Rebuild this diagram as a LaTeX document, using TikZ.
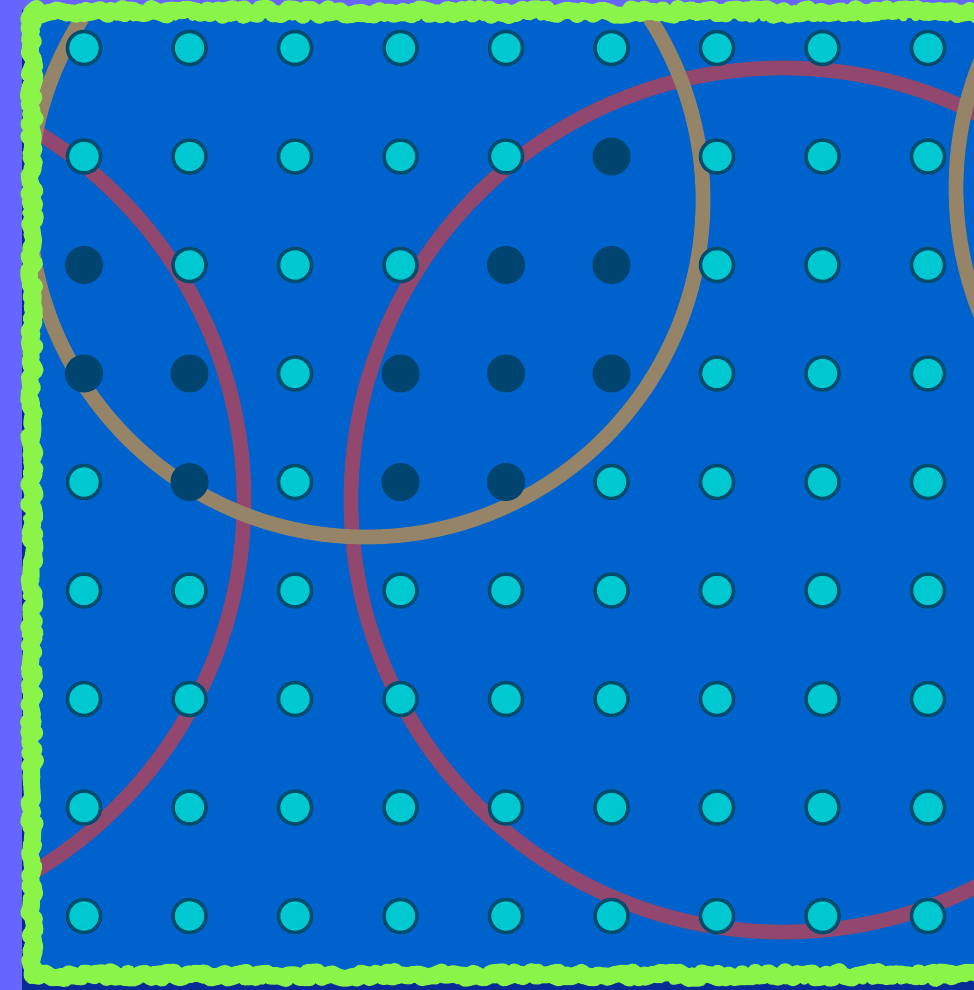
\documentclass[tikz,border=0pt]{standalone}
\usepackage{xcolor}
\usetikzlibrary{decorations.pathmorphing}
\definecolor{bgviolet}{RGB}{102,102,255}
\definecolor{framedark}{RGB}{8,44,150}
\definecolor{boardblue}{RGB}{0,98,204}
\definecolor{framegreen}{RGB}{138,244,72}
\definecolor{ringtan}{RGB}{150,132,105}
\definecolor{ringpink}{RGB}{146,72,110}
\definecolor{pegcyan}{RGB}{0,200,208}
\definecolor{pegline}{RGB}{0,76,108}
\definecolor{pegdark}{RGB}{0,68,112}

\begin{document}
\begin{tikzpicture}[x=0.01cm, y=-0.01cm,
  peg/.style={circle, draw=pegline, fill=pegcyan, line width=1pt, minimum size=0.33cm, inner sep=0pt},
  hole/.style={circle, fill=pegdark, minimum size=0.38cm, inner sep=0pt},
  dot/.code={\ifnum#1=1 \pgfkeysalso{hole}\else\pgfkeysalso{peg}\fi},
  ring/.style={line width=4.2pt},
  rough/.style={framegreen, line width=4.8pt, line join=round, decorate, decoration={random steps, segment length=1.2pt, amplitude=1pt}}]
  \useasboundingbox (0,0) rectangle (974,990);
  \fill[bgviolet] (0,0) rectangle (974,990);
  \fill[framedark] (22,10) rectangle (974,990);
  \fill[boardblue] (36,16) rectangle (974,972);
  \begin{scope}
    \clip (36,16) rectangle (974,972);
    \draw[ring, ringpink] (-188,501) circle[radius=432];
    \draw[ring, ringpink] (783,500) circle[radius=432];
    \draw[ring, ringtan] (366,200) circle[radius=337];
    \draw[ring, ringtan] (1293,188) circle[radius=337];
  \end{scope}
  \foreach \r/\code in {1/0,2/32,3/49,4/59,5/26,6/0,7/0,8/0,9/0}
    \foreach \c in {1,...,9} {
      \pgfmathtruncatemacro\bit{mod(floor(\code/2^(\c-1)),2)}
      \node[dot=\bit] (p\c\r) at ({84+105.5*(\c-1)},{48+108.5*(\r-1)}) {};
    }
  \draw[rough] (32,12) rectangle (992,975);
  \draw[rough, line width=2.5pt, decoration={random steps, segment length=0.8pt, amplitude=1.3pt}] (31,13) rectangle (992,976);
\end{tikzpicture}
\end{document}
